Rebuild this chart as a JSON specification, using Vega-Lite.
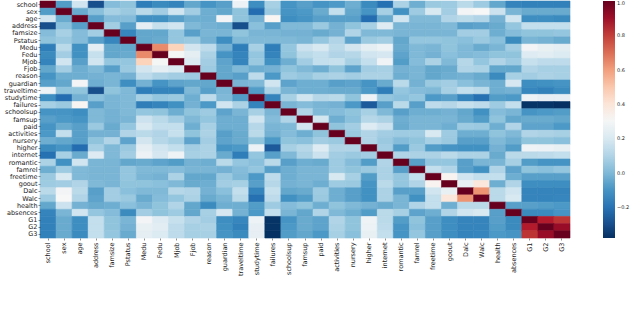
{"$schema":"https://vega.github.io/schema/vega-lite/v6.json","width":530,"height":237,"padding":{"left":40,"top":1,"right":70,"bottom":71},"autosize":{"type":"none"},"background":"white","view":{"stroke":null},"title":{"text":"Figure 3: The heatmap shows the correlation between all","orient":"bottom","anchor":"start","offset":29,"fontSize":26,"font":"Liberation Serif","fontWeight":"normal","color":"#222","dx":-40},"data":{"values":[
{"r":"school","c":"school","v":1},{"r":"school","c":"sex","v":-0.08},{"r":"sex","c":"school","v":-0.08},{"r":"school","c":"age","v":0.17},{"r":"age","c":"school","v":0.17},{"r":"school","c":"address","v":-0.3},{"r":"address","c":"school","v":-0.3},{"r":"school","c":"famsize","v":0.01},{"r":"famsize","c":"school","v":0.01},{"r":"school","c":"Pstatus","v":0.03},{"r":"Pstatus","c":"school","v":0.03},{"r":"school","c":"Medu","v":-0.17},{"r":"Medu","c":"school","v":-0.17},{"r":"school","c":"Fedu","v":-0.13},{"r":"Fedu","c":"school","v":-0.13},{"r":"school","c":"Mjob","v":-0.15},{"r":"Mjob","c":"school","v":-0.15},{"r":"school","c":"Fjob","v":-0.05},{"r":"Fjob","c":"school","v":-0.05},{"r":"school","c":"reason","v":-0.1},{"r":"reason","c":"school","v":-0.1},{"r":"school","c":"guardian","v":-0.07},{"r":"guardian","c":"school","v":-0.07},{"r":"school","c":"traveltime","v":0.27},{"r":"traveltime","c":"school","v":0.27},{"r":"school","c":"studytime","v":-0.12},{"r":"studytime","c":"school","v":-0.12},{"r":"school","c":"failures","v":0.08},{"r":"failures","c":"school","v":0.08},{"r":"school","c":"schoolsup","v":-0.1},{"r":"schoolsup","c":"school","v":-0.1},{"r":"school","c":"famsup","v":-0.07},{"r":"famsup","c":"school","v":-0.07},{"r":"school","c":"paid","v":-0.1},{"r":"paid","c":"school","v":-0.1},{"r":"school","c":"activities","v":-0.09},{"r":"activities","c":"school","v":-0.09},{"r":"school","c":"nursery","v":-0.03},{"r":"nursery","c":"school","v":-0.03},{"r":"school","c":"higher","v":-0.13},{"r":"higher","c":"school","v":-0.13},{"r":"school","c":"internet","v":-0.21},{"r":"internet","c":"school","v":-0.21},{"r":"school","c":"romantic","v":0.09},{"r":"romantic","c":"school","v":0.09},{"r":"school","c":"famrel","v":-0.03},{"r":"famrel","c":"school","v":-0.03},{"r":"school","c":"freetime","v":0.05},{"r":"freetime","c":"school","v":0.05},{"r":"school","c":"goout","v":0.06},{"r":"goout","c":"school","v":0.06},{"r":"school","c":"Dalc","v":0.12},{"r":"Dalc","c":"school","v":0.12},{"r":"school","c":"Walc","v":0.06},{"r":"Walc","c":"school","v":0.06},{"r":"school","c":"health","v":-0.05},{"r":"health","c":"school","v":-0.05},{"r":"school","c":"absences","v":-0.15},{"r":"absences","c":"school","v":-0.15},{"r":"school","c":"G1","v":-0.16},{"r":"G1","c":"school","v":-0.16},{"r":"school","c":"G2","v":-0.16},{"r":"G2","c":"school","v":-0.16},{"r":"school","c":"G3","v":-0.16},{"r":"G3","c":"school","v":-0.16},
{"r":"sex","c":"sex","v":1},{"r":"sex","c":"age","v":-0.04},{"r":"age","c":"sex","v":-0.04},{"r":"sex","c":"address","v":0.02},{"r":"address","c":"sex","v":0.02},{"r":"sex","c":"famsize","v":0.08},{"r":"famsize","c":"sex","v":0.08},{"r":"sex","c":"Pstatus","v":0.05},{"r":"Pstatus","c":"sex","v":0.05},{"r":"sex","c":"Medu","v":0.12},{"r":"Medu","c":"sex","v":0.12},{"r":"sex","c":"Fedu","v":0.07},{"r":"Fedu","c":"sex","v":0.07},{"r":"sex","c":"Mjob","v":0.17},{"r":"Mjob","c":"sex","v":0.17},{"r":"sex","c":"Fjob","v":0.07},{"r":"Fjob","c":"sex","v":0.07},{"r":"sex","c":"reason","v":-0.03},{"r":"reason","c":"sex","v":-0.03},{"r":"sex","c":"guardian","v":-0.05},{"r":"guardian","c":"sex","v":-0.05},{"r":"sex","c":"traveltime","v":0.03},{"r":"traveltime","c":"sex","v":0.03},{"r":"sex","c":"studytime","v":-0.22},{"r":"studytime","c":"sex","v":-0.22},{"r":"sex","c":"failures","v":0.05},{"r":"failures","c":"sex","v":0.05},{"r":"sex","c":"schoolsup","v":-0.1},{"r":"schoolsup","c":"sex","v":-0.1},{"r":"sex","c":"famsup","v":-0.09},{"r":"famsup","c":"sex","v":-0.09},{"r":"sex","c":"paid","v":-0.04},{"r":"paid","c":"sex","v":-0.04},{"r":"sex","c":"activities","v":0.14},{"r":"activities","c":"sex","v":0.14},{"r":"sex","c":"nursery","v":-0.05},{"r":"nursery","c":"sex","v":-0.05},{"r":"sex","c":"higher","v":-0.1},{"r":"higher","c":"sex","v":-0.1},{"r":"sex","c":"internet","v":0.08},{"r":"internet","c":"sex","v":0.08},{"r":"sex","c":"romantic","v":-0.11},{"r":"romantic","c":"sex","v":-0.11},{"r":"sex","c":"famrel","v":0.06},{"r":"famrel","c":"sex","v":0.06},{"r":"sex","c":"freetime","v":0.2},{"r":"freetime","c":"sex","v":0.2},{"r":"sex","c":"goout","v":0.07},{"r":"goout","c":"sex","v":0.07},{"r":"sex","c":"Dalc","v":0.29},{"r":"Dalc","c":"sex","v":0.29},{"r":"sex","c":"Walc","v":0.31},{"r":"Walc","c":"sex","v":0.31},{"r":"sex","c":"health","v":0.16},{"r":"health","c":"sex","v":0.16},{"r":"sex","c":"absences","v":-0.01},{"r":"absences","c":"sex","v":-0.01},{"r":"sex","c":"G1","v":-0.04},{"r":"G1","c":"sex","v":-0.04},{"r":"sex","c":"G2","v":-0.04},{"r":"G2","c":"sex","v":-0.04},{"r":"sex","c":"G3","v":-0.04},{"r":"G3","c":"sex","v":-0.04},
{"r":"age","c":"age","v":1},{"r":"age","c":"address","v":-0.07},{"r":"address","c":"age","v":-0.07},{"r":"age","c":"famsize","v":0.01},{"r":"famsize","c":"age","v":0.01},{"r":"age","c":"Pstatus","v":0.01},{"r":"Pstatus","c":"age","v":0.01},{"r":"age","c":"Medu","v":-0.11},{"r":"Medu","c":"age","v":-0.11},{"r":"age","c":"Fedu","v":-0.11},{"r":"Fedu","c":"age","v":-0.11},{"r":"age","c":"Mjob","v":-0.07},{"r":"Mjob","c":"age","v":-0.07},{"r":"age","c":"Fjob","v":-0.03},{"r":"Fjob","c":"age","v":-0.03},{"r":"age","c":"reason","v":-0.03},{"r":"reason","c":"age","v":-0.03},{"r":"age","c":"guardian","v":0.29},{"r":"guardian","c":"age","v":0.29},{"r":"age","c":"traveltime","v":0.03},{"r":"traveltime","c":"age","v":0.03},{"r":"age","c":"studytime","v":-0.02},{"r":"studytime","c":"age","v":-0.02},{"r":"age","c":"failures","v":0.32},{"r":"failures","c":"age","v":0.32},{"r":"age","c":"schoolsup","v":-0.12},{"r":"schoolsup","c":"age","v":-0.12},{"r":"age","c":"famsup","v":-0.1},{"r":"famsup","c":"age","v":-0.1},{"r":"age","c":"paid","v":-0.07},{"r":"paid","c":"age","v":-0.07},{"r":"age","c":"activities","v":-0.07},{"r":"activities","c":"age","v":-0.07},{"r":"age","c":"nursery","v":-0.07},{"r":"nursery","c":"age","v":-0.07},{"r":"age","c":"higher","v":-0.22},{"r":"higher","c":"age","v":-0.22},{"r":"age","c":"internet","v":-0.04},{"r":"internet","c":"age","v":-0.04},{"r":"age","c":"romantic","v":0.17},{"r":"romantic","c":"age","v":0.17},{"r":"age","c":"famrel","v":0},{"r":"famrel","c":"age","v":0},{"r":"age","c":"freetime","v":0},{"r":"freetime","c":"age","v":0},{"r":"age","c":"goout","v":0.1},{"r":"goout","c":"age","v":0.1},{"r":"age","c":"Dalc","v":0.12},{"r":"Dalc","c":"age","v":0.12},{"r":"age","c":"Walc","v":0.1},{"r":"Walc","c":"age","v":0.1},{"r":"age","c":"health","v":-0.02},{"r":"health","c":"age","v":-0.02},{"r":"age","c":"absences","v":0.17},{"r":"absences","c":"age","v":0.17},{"r":"age","c":"G1","v":-0.12},{"r":"G1","c":"age","v":-0.12},{"r":"age","c":"G2","v":-0.12},{"r":"G2","c":"age","v":-0.12},{"r":"age","c":"G3","v":-0.13},{"r":"G3","c":"age","v":-0.13},
{"r":"address","c":"address","v":1},{"r":"address","c":"famsize","v":0.07},{"r":"famsize","c":"address","v":0.07},{"r":"address","c":"Pstatus","v":-0.07},{"r":"Pstatus","c":"address","v":-0.07},{"r":"address","c":"Medu","v":0.24},{"r":"Medu","c":"address","v":0.24},{"r":"address","c":"Fedu","v":0.15},{"r":"Fedu","c":"address","v":0.15},{"r":"address","c":"Mjob","v":0.17},{"r":"Mjob","c":"address","v":0.17},{"r":"address","c":"Fjob","v":0},{"r":"Fjob","c":"address","v":0},{"r":"address","c":"reason","v":-0.02},{"r":"reason","c":"address","v":-0.02},{"r":"address","c":"guardian","v":-0.03},{"r":"guardian","c":"address","v":-0.03},{"r":"address","c":"traveltime","v":-0.3},{"r":"traveltime","c":"address","v":-0.3},{"r":"address","c":"studytime","v":0.02},{"r":"studytime","c":"address","v":0.02},{"r":"address","c":"failures","v":-0.07},{"r":"failures","c":"address","v":-0.07},{"r":"address","c":"schoolsup","v":0},{"r":"schoolsup","c":"address","v":0},{"r":"address","c":"famsup","v":0},{"r":"famsup","c":"address","v":0},{"r":"address","c":"paid","v":0.05},{"r":"paid","c":"address","v":0.05},{"r":"address","c":"activities","v":-0.02},{"r":"activities","c":"address","v":-0.02},{"r":"address","c":"nursery","v":0.03},{"r":"nursery","c":"address","v":0.03},{"r":"address","c":"higher","v":0.08},{"r":"higher","c":"address","v":0.08},{"r":"address","c":"internet","v":0.22},{"r":"internet","c":"address","v":0.22},{"r":"address","c":"romantic","v":-0.01},{"r":"romantic","c":"address","v":-0.01},{"r":"address","c":"famrel","v":-0.01},{"r":"famrel","c":"address","v":-0.01},{"r":"address","c":"freetime","v":-0.01},{"r":"freetime","c":"address","v":-0.01},{"r":"address","c":"goout","v":0},{"r":"goout","c":"address","v":0},{"r":"address","c":"Dalc","v":-0.07},{"r":"Dalc","c":"address","v":-0.07},{"r":"address","c":"Walc","v":-0.06},{"r":"Walc","c":"address","v":-0.06},{"r":"address","c":"health","v":-0.04},{"r":"health","c":"address","v":-0.04},{"r":"address","c":"absences","v":0.04},{"r":"absences","c":"address","v":0.04},{"r":"address","c":"G1","v":0.14},{"r":"G1","c":"address","v":0.14},{"r":"address","c":"G2","v":0.14},{"r":"G2","c":"address","v":0.14},{"r":"address","c":"G3","v":0.14},{"r":"G3","c":"address","v":0.14},
{"r":"famsize","c":"famsize","v":1},{"r":"famsize","c":"Pstatus","v":-0.14},{"r":"Pstatus","c":"famsize","v":-0.14},{"r":"famsize","c":"Medu","v":-0.05},{"r":"Medu","c":"famsize","v":-0.05},{"r":"famsize","c":"Fedu","v":-0.05},{"r":"Fedu","c":"famsize","v":-0.05},{"r":"famsize","c":"Mjob","v":0.04},{"r":"Mjob","c":"famsize","v":0.04},{"r":"famsize","c":"Fjob","v":-0.07},{"r":"Fjob","c":"famsize","v":-0.07},{"r":"famsize","c":"reason","v":-0.01},{"r":"reason","c":"famsize","v":-0.01},{"r":"famsize","c":"guardian","v":-0.01},{"r":"guardian","c":"famsize","v":-0.01},{"r":"famsize","c":"traveltime","v":0.03},{"r":"traveltime","c":"famsize","v":0.03},{"r":"famsize","c":"studytime","v":-0.01},{"r":"studytime","c":"famsize","v":-0.01},{"r":"famsize","c":"failures","v":-0.01},{"r":"failures","c":"famsize","v":-0.01},{"r":"famsize","c":"schoolsup","v":-0.02},{"r":"schoolsup","c":"famsize","v":-0.02},{"r":"famsize","c":"famsup","v":-0.02},{"r":"famsup","c":"famsize","v":-0.02},{"r":"famsize","c":"paid","v":-0.04},{"r":"paid","c":"famsize","v":-0.04},{"r":"famsize","c":"activities","v":-0.02},{"r":"activities","c":"famsize","v":-0.02},{"r":"famsize","c":"nursery","v":0.1},{"r":"nursery","c":"famsize","v":0.1},{"r":"famsize","c":"higher","v":0},{"r":"higher","c":"famsize","v":0},{"r":"famsize","c":"internet","v":0},{"r":"internet","c":"famsize","v":0},{"r":"famsize","c":"romantic","v":-0.01},{"r":"romantic","c":"famsize","v":-0.01},{"r":"famsize","c":"famrel","v":-0.01},{"r":"famrel","c":"famsize","v":-0.01},{"r":"famsize","c":"freetime","v":-0.01},{"r":"freetime","c":"famsize","v":-0.01},{"r":"famsize","c":"goout","v":-0.01},{"r":"goout","c":"famsize","v":-0.01},{"r":"famsize","c":"Dalc","v":0.07},{"r":"Dalc","c":"famsize","v":0.07},{"r":"famsize","c":"Walc","v":0.07},{"r":"Walc","c":"famsize","v":0.07},{"r":"famsize","c":"health","v":-0.03},{"r":"health","c":"famsize","v":-0.03},{"r":"famsize","c":"absences","v":0.01},{"r":"absences","c":"famsize","v":0.01},{"r":"famsize","c":"G1","v":0.03},{"r":"G1","c":"famsize","v":0.03},{"r":"famsize","c":"G2","v":0.03},{"r":"G2","c":"famsize","v":0.03},{"r":"famsize","c":"G3","v":0.04},{"r":"G3","c":"famsize","v":0.04},
{"r":"Pstatus","c":"Pstatus","v":1},{"r":"Pstatus","c":"Medu","v":-0.05},{"r":"Medu","c":"Pstatus","v":-0.05},{"r":"Pstatus","c":"Fedu","v":-0.04},{"r":"Fedu","c":"Pstatus","v":-0.04},{"r":"Pstatus","c":"Mjob","v":0.04},{"r":"Mjob","c":"Pstatus","v":0.04},{"r":"Pstatus","c":"Fjob","v":0.05},{"r":"Fjob","c":"Pstatus","v":0.05},{"r":"Pstatus","c":"reason","v":-0.02},{"r":"reason","c":"Pstatus","v":-0.02},{"r":"Pstatus","c":"guardian","v":-0.12},{"r":"guardian","c":"Pstatus","v":-0.12},{"r":"Pstatus","c":"traveltime","v":0},{"r":"traveltime","c":"Pstatus","v":0},{"r":"Pstatus","c":"studytime","v":0},{"r":"studytime","c":"Pstatus","v":0},{"r":"Pstatus","c":"failures","v":0},{"r":"failures","c":"Pstatus","v":0},{"r":"Pstatus","c":"schoolsup","v":0},{"r":"schoolsup","c":"Pstatus","v":0},{"r":"Pstatus","c":"famsup","v":-0.01},{"r":"famsup","c":"Pstatus","v":-0.01},{"r":"Pstatus","c":"paid","v":0.04},{"r":"paid","c":"Pstatus","v":0.04},{"r":"Pstatus","c":"activities","v":0.1},{"r":"activities","c":"Pstatus","v":0.1},{"r":"Pstatus","c":"nursery","v":-0.06},{"r":"nursery","c":"Pstatus","v":-0.06},{"r":"Pstatus","c":"higher","v":0.05},{"r":"higher","c":"Pstatus","v":0.05},{"r":"Pstatus","c":"internet","v":0.07},{"r":"internet","c":"Pstatus","v":0.07},{"r":"Pstatus","c":"romantic","v":-0.05},{"r":"romantic","c":"Pstatus","v":-0.05},{"r":"Pstatus","c":"famrel","v":0.04},{"r":"famrel","c":"Pstatus","v":0.04},{"r":"Pstatus","c":"freetime","v":0.04},{"r":"freetime","c":"Pstatus","v":0.04},{"r":"Pstatus","c":"goout","v":0.03},{"r":"goout","c":"Pstatus","v":0.03},{"r":"Pstatus","c":"Dalc","v":0.02},{"r":"Dalc","c":"Pstatus","v":0.02},{"r":"Pstatus","c":"Walc","v":0.05},{"r":"Walc","c":"Pstatus","v":0.05},{"r":"Pstatus","c":"health","v":0.02},{"r":"health","c":"Pstatus","v":0.02},{"r":"Pstatus","c":"absences","v":-0.13},{"r":"absences","c":"Pstatus","v":-0.13},{"r":"Pstatus","c":"G1","v":-0.01},{"r":"G1","c":"Pstatus","v":-0.01},{"r":"Pstatus","c":"G2","v":-0.02},{"r":"G2","c":"Pstatus","v":-0.02},{"r":"Pstatus","c":"G3","v":-0.04},{"r":"G3","c":"Pstatus","v":-0.04},
{"r":"Medu","c":"Medu","v":1},{"r":"Medu","c":"Fedu","v":0.64},{"r":"Fedu","c":"Medu","v":0.64},{"r":"Medu","c":"Mjob","v":0.47},{"r":"Mjob","c":"Medu","v":0.47},{"r":"Medu","c":"Fjob","v":0.18},{"r":"Fjob","c":"Medu","v":0.18},{"r":"Medu","c":"reason","v":0.13},{"r":"reason","c":"Medu","v":0.13},{"r":"Medu","c":"guardian","v":-0.02},{"r":"guardian","c":"Medu","v":-0.02},{"r":"Medu","c":"traveltime","v":-0.17},{"r":"traveltime","c":"Medu","v":-0.17},{"r":"Medu","c":"studytime","v":0.08},{"r":"studytime","c":"Medu","v":0.08},{"r":"Medu","c":"failures","v":-0.17},{"r":"failures","c":"Medu","v":-0.17},{"r":"Medu","c":"schoolsup","v":0.04},{"r":"schoolsup","c":"Medu","v":0.04},{"r":"Medu","c":"famsup","v":0.16},{"r":"famsup","c":"Medu","v":0.16},{"r":"Medu","c":"paid","v":0.2},{"r":"paid","c":"Medu","v":0.2},{"r":"Medu","c":"activities","v":0.12},{"r":"activities","c":"Medu","v":0.12},{"r":"Medu","c":"nursery","v":0.18},{"r":"nursery","c":"Medu","v":0.18},{"r":"Medu","c":"higher","v":0.24},{"r":"higher","c":"Medu","v":0.24},{"r":"Medu","c":"internet","v":0.27},{"r":"internet","c":"Medu","v":0.27},{"r":"Medu","c":"romantic","v":-0.04},{"r":"romantic","c":"Medu","v":-0.04},{"r":"Medu","c":"famrel","v":0},{"r":"famrel","c":"Medu","v":0},{"r":"Medu","c":"freetime","v":-0.01},{"r":"freetime","c":"Medu","v":-0.01},{"r":"Medu","c":"goout","v":0.03},{"r":"goout","c":"Medu","v":0.03},{"r":"Medu","c":"Dalc","v":0},{"r":"Dalc","c":"Medu","v":0},{"r":"Medu","c":"Walc","v":-0.04},{"r":"Walc","c":"Medu","v":-0.04},{"r":"Medu","c":"health","v":-0.01},{"r":"health","c":"Medu","v":-0.01},{"r":"Medu","c":"absences","v":0.07},{"r":"absences","c":"Medu","v":0.07},{"r":"Medu","c":"G1","v":0.29},{"r":"G1","c":"Medu","v":0.29},{"r":"Medu","c":"G2","v":0.26},{"r":"G2","c":"Medu","v":0.26},{"r":"Medu","c":"G3","v":0.24},{"r":"G3","c":"Medu","v":0.24},
{"r":"Fedu","c":"Fedu","v":1},{"r":"Fedu","c":"Mjob","v":0.3},{"r":"Mjob","c":"Fedu","v":0.3},{"r":"Fedu","c":"Fjob","v":0.24},{"r":"Fjob","c":"Fedu","v":0.24},{"r":"Fedu","c":"reason","v":0.09},{"r":"reason","c":"Fedu","v":0.09},{"r":"Fedu","c":"guardian","v":-0.1},{"r":"guardian","c":"Fedu","v":-0.1},{"r":"Fedu","c":"traveltime","v":-0.15},{"r":"traveltime","c":"Fedu","v":-0.15},{"r":"Fedu","c":"studytime","v":0.04},{"r":"studytime","c":"Fedu","v":0.04},{"r":"Fedu","c":"failures","v":-0.15},{"r":"failures","c":"Fedu","v":-0.15},{"r":"Fedu","c":"schoolsup","v":0.03},{"r":"schoolsup","c":"Fedu","v":0.03},{"r":"Fedu","c":"famsup","v":0.12},{"r":"famsup","c":"Fedu","v":0.12},{"r":"Fedu","c":"paid","v":0.14},{"r":"paid","c":"Fedu","v":0.14},{"r":"Fedu","c":"activities","v":0.1},{"r":"activities","c":"Fedu","v":0.1},{"r":"Fedu","c":"nursery","v":0.11},{"r":"nursery","c":"Fedu","v":0.11},{"r":"Fedu","c":"higher","v":0.17},{"r":"higher","c":"Fedu","v":0.17},{"r":"Fedu","c":"internet","v":0.19},{"r":"internet","c":"Fedu","v":0.19},{"r":"Fedu","c":"romantic","v":-0.06},{"r":"romantic","c":"Fedu","v":-0.06},{"r":"Fedu","c":"famrel","v":0},{"r":"famrel","c":"Fedu","v":0},{"r":"Fedu","c":"freetime","v":-0.02},{"r":"freetime","c":"Fedu","v":-0.02},{"r":"Fedu","c":"goout","v":0.02},{"r":"goout","c":"Fedu","v":0.02},{"r":"Fedu","c":"Dalc","v":0},{"r":"Dalc","c":"Fedu","v":0},{"r":"Fedu","c":"Walc","v":0.01},{"r":"Walc","c":"Fedu","v":0.01},{"r":"Fedu","c":"health","v":0.03},{"r":"health","c":"Fedu","v":0.03},{"r":"Fedu","c":"absences","v":0.03},{"r":"absences","c":"Fedu","v":0.03},{"r":"Fedu","c":"G1","v":0.22},{"r":"G1","c":"Fedu","v":0.22},{"r":"Fedu","c":"G2","v":0.23},{"r":"G2","c":"Fedu","v":0.23},{"r":"Fedu","c":"G3","v":0.21},{"r":"G3","c":"Fedu","v":0.21},
{"r":"Mjob","c":"Mjob","v":1},{"r":"Mjob","c":"Fjob","v":0.21},{"r":"Fjob","c":"Mjob","v":0.21},{"r":"Mjob","c":"reason","v":0.07},{"r":"reason","c":"Mjob","v":0.07},{"r":"Mjob","c":"guardian","v":-0.06},{"r":"guardian","c":"Mjob","v":-0.06},{"r":"Mjob","c":"traveltime","v":-0.15},{"r":"traveltime","c":"Mjob","v":-0.15},{"r":"Mjob","c":"studytime","v":0.05},{"r":"studytime","c":"Mjob","v":0.05},{"r":"Mjob","c":"failures","v":-0.11},{"r":"failures","c":"Mjob","v":-0.11},{"r":"Mjob","c":"schoolsup","v":-0.03},{"r":"schoolsup","c":"Mjob","v":-0.03},{"r":"Mjob","c":"famsup","v":0.07},{"r":"famsup","c":"Mjob","v":0.07},{"r":"Mjob","c":"paid","v":0.14},{"r":"paid","c":"Mjob","v":0.14},{"r":"Mjob","c":"activities","v":0.15},{"r":"activities","c":"Mjob","v":0.15},{"r":"Mjob","c":"nursery","v":0.08},{"r":"nursery","c":"Mjob","v":0.08},{"r":"Mjob","c":"higher","v":0.14},{"r":"higher","c":"Mjob","v":0.14},{"r":"Mjob","c":"internet","v":0.28},{"r":"internet","c":"Mjob","v":0.28},{"r":"Mjob","c":"romantic","v":-0.08},{"r":"romantic","c":"Mjob","v":-0.08},{"r":"Mjob","c":"famrel","v":0.01},{"r":"famrel","c":"Mjob","v":0.01},{"r":"Mjob","c":"freetime","v":0.09},{"r":"freetime","c":"Mjob","v":0.09},{"r":"Mjob","c":"goout","v":0},{"r":"goout","c":"Mjob","v":0},{"r":"Mjob","c":"Dalc","v":0.11},{"r":"Dalc","c":"Mjob","v":0.11},{"r":"Mjob","c":"Walc","v":0.04},{"r":"Walc","c":"Mjob","v":0.04},{"r":"Mjob","c":"health","v":0.1},{"r":"health","c":"Mjob","v":0.1},{"r":"Mjob","c":"absences","v":0.06},{"r":"absences","c":"Mjob","v":0.06},{"r":"Mjob","c":"G1","v":0.15},{"r":"G1","c":"Mjob","v":0.15},{"r":"Mjob","c":"G2","v":0.13},{"r":"G2","c":"Mjob","v":0.13},{"r":"Mjob","c":"G3","v":0.13},{"r":"G3","c":"Mjob","v":0.13},
{"r":"Fjob","c":"Fjob","v":1},{"r":"Fjob","c":"reason","v":0.06},{"r":"reason","c":"Fjob","v":0.06},{"r":"Fjob","c":"guardian","v":-0.05},{"r":"guardian","c":"Fjob","v":-0.05},{"r":"Fjob","c":"traveltime","v":0},{"r":"traveltime","c":"Fjob","v":0},{"r":"Fjob","c":"studytime","v":-0.03},{"r":"studytime","c":"Fjob","v":-0.03},{"r":"Fjob","c":"failures","v":-0.02},{"r":"failures","c":"Fjob","v":-0.02},{"r":"Fjob","c":"schoolsup","v":0.03},{"r":"schoolsup","c":"Fjob","v":0.03},{"r":"Fjob","c":"famsup","v":0},{"r":"famsup","c":"Fjob","v":0},{"r":"Fjob","c":"paid","v":-0.03},{"r":"paid","c":"Fjob","v":-0.03},{"r":"Fjob","c":"activities","v":0.03},{"r":"activities","c":"Fjob","v":0.03},{"r":"Fjob","c":"nursery","v":-0.06},{"r":"nursery","c":"Fjob","v":-0.06},{"r":"Fjob","c":"higher","v":0.07},{"r":"higher","c":"Fjob","v":0.07},{"r":"Fjob","c":"internet","v":0.08},{"r":"internet","c":"Fjob","v":0.08},{"r":"Fjob","c":"romantic","v":-0.02},{"r":"romantic","c":"Fjob","v":-0.02},{"r":"Fjob","c":"famrel","v":-0.01},{"r":"famrel","c":"Fjob","v":-0.01},{"r":"Fjob","c":"freetime","v":-0.05},{"r":"freetime","c":"Fjob","v":-0.05},{"r":"Fjob","c":"goout","v":-0.04},{"r":"goout","c":"Fjob","v":-0.04},{"r":"Fjob","c":"Dalc","v":0.1},{"r":"Dalc","c":"Fjob","v":0.1},{"r":"Fjob","c":"Walc","v":0.09},{"r":"Walc","c":"Fjob","v":0.09},{"r":"Fjob","c":"health","v":-0.05},{"r":"health","c":"Fjob","v":-0.05},{"r":"Fjob","c":"absences","v":-0.05},{"r":"absences","c":"Fjob","v":-0.05},{"r":"Fjob","c":"G1","v":0.1},{"r":"G1","c":"Fjob","v":0.1},{"r":"Fjob","c":"G2","v":0.08},{"r":"G2","c":"Fjob","v":0.08},{"r":"Fjob","c":"G3","v":0.08},{"r":"G3","c":"Fjob","v":0.08},
{"r":"reason","c":"reason","v":1},{"r":"reason","c":"guardian","v":-0.05},{"r":"guardian","c":"reason","v":-0.05},{"r":"reason","c":"traveltime","v":-0.07},{"r":"traveltime","c":"reason","v":-0.07},{"r":"reason","c":"studytime","v":0.13},{"r":"studytime","c":"reason","v":0.13},{"r":"reason","c":"failures","v":-0.09},{"r":"failures","c":"reason","v":-0.09},{"r":"reason","c":"schoolsup","v":0.06},{"r":"schoolsup","c":"reason","v":0.06},{"r":"reason","c":"famsup","v":0.04},{"r":"famsup","c":"reason","v":0.04},{"r":"reason","c":"paid","v":0.08},{"r":"paid","c":"reason","v":0.08},{"r":"reason","c":"activities","v":0.09},{"r":"activities","c":"reason","v":0.09},{"r":"reason","c":"nursery","v":0.07},{"r":"nursery","c":"reason","v":0.07},{"r":"reason","c":"higher","v":0.09},{"r":"higher","c":"reason","v":0.09},{"r":"reason","c":"internet","v":0.09},{"r":"internet","c":"reason","v":0.09},{"r":"reason","c":"romantic","v":-0.03},{"r":"romantic","c":"reason","v":-0.03},{"r":"reason","c":"famrel","v":-0.01},{"r":"famrel","c":"reason","v":-0.01},{"r":"reason","c":"freetime","v":-0.05},{"r":"freetime","c":"reason","v":-0.05},{"r":"reason","c":"goout","v":-0.03},{"r":"goout","c":"reason","v":-0.03},{"r":"reason","c":"Dalc","v":-0.02},{"r":"Dalc","c":"reason","v":-0.02},{"r":"reason","c":"Walc","v":-0.04},{"r":"Walc","c":"reason","v":-0.04},{"r":"reason","c":"health","v":-0.13},{"r":"health","c":"reason","v":-0.13},{"r":"reason","c":"absences","v":0.08},{"r":"absences","c":"reason","v":0.08},{"r":"reason","c":"G1","v":0.07},{"r":"G1","c":"reason","v":0.07},{"r":"reason","c":"G2","v":0.09},{"r":"G2","c":"reason","v":0.09},{"r":"reason","c":"G3","v":0.08},{"r":"G3","c":"reason","v":0.08},
{"r":"guardian","c":"guardian","v":1},{"r":"guardian","c":"traveltime","v":-0.01},{"r":"traveltime","c":"guardian","v":-0.01},{"r":"guardian","c":"studytime","v":0},{"r":"studytime","c":"guardian","v":0},{"r":"guardian","c":"failures","v":0.17},{"r":"failures","c":"guardian","v":0.17},{"r":"guardian","c":"schoolsup","v":-0.06},{"r":"schoolsup","c":"guardian","v":-0.06},{"r":"guardian","c":"famsup","v":-0.03},{"r":"famsup","c":"guardian","v":-0.03},{"r":"guardian","c":"paid","v":-0.03},{"r":"paid","c":"guardian","v":-0.03},{"r":"guardian","c":"activities","v":-0.07},{"r":"activities","c":"guardian","v":-0.07},{"r":"guardian","c":"nursery","v":-0.06},{"r":"nursery","c":"guardian","v":-0.06},{"r":"guardian","c":"higher","v":-0.1},{"r":"higher","c":"guardian","v":-0.1},{"r":"guardian","c":"internet","v":-0.04},{"r":"internet","c":"guardian","v":-0.04},{"r":"guardian","c":"romantic","v":0.12},{"r":"romantic","c":"guardian","v":0.12},{"r":"guardian","c":"famrel","v":-0.02},{"r":"famrel","c":"guardian","v":-0.02},{"r":"guardian","c":"freetime","v":0.05},{"r":"freetime","c":"guardian","v":0.05},{"r":"guardian","c":"goout","v":0.07},{"r":"goout","c":"guardian","v":0.07},{"r":"guardian","c":"Dalc","v":0.02},{"r":"Dalc","c":"guardian","v":0.02},{"r":"guardian","c":"Walc","v":-0.01},{"r":"Walc","c":"guardian","v":-0.01},{"r":"guardian","c":"health","v":-0.03},{"r":"health","c":"guardian","v":-0.03},{"r":"guardian","c":"absences","v":0.19},{"r":"absences","c":"guardian","v":0.19},{"r":"guardian","c":"G1","v":-0.12},{"r":"G1","c":"guardian","v":-0.12},{"r":"guardian","c":"G2","v":-0.11},{"r":"G2","c":"guardian","v":-0.11},{"r":"guardian","c":"G3","v":-0.1},{"r":"G3","c":"guardian","v":-0.1},
{"r":"traveltime","c":"traveltime","v":1},{"r":"traveltime","c":"studytime","v":-0.08},{"r":"studytime","c":"traveltime","v":-0.08},{"r":"traveltime","c":"failures","v":0.09},{"r":"failures","c":"traveltime","v":0.09},{"r":"traveltime","c":"schoolsup","v":-0.01},{"r":"schoolsup","c":"traveltime","v":-0.01},{"r":"traveltime","c":"famsup","v":-0.03},{"r":"famsup","c":"traveltime","v":-0.03},{"r":"traveltime","c":"paid","v":-0.03},{"r":"paid","c":"traveltime","v":-0.03},{"r":"traveltime","c":"activities","v":-0.04},{"r":"activities","c":"traveltime","v":-0.04},{"r":"traveltime","c":"nursery","v":-0.04},{"r":"nursery","c":"traveltime","v":-0.04},{"r":"traveltime","c":"higher","v":-0.09},{"r":"higher","c":"traveltime","v":-0.09},{"r":"traveltime","c":"internet","v":-0.17},{"r":"internet","c":"traveltime","v":-0.17},{"r":"traveltime","c":"romantic","v":0.04},{"r":"romantic","c":"traveltime","v":0.04},{"r":"traveltime","c":"famrel","v":0.01},{"r":"famrel","c":"traveltime","v":0.01},{"r":"traveltime","c":"freetime","v":0},{"r":"freetime","c":"traveltime","v":0},{"r":"traveltime","c":"goout","v":0.08},{"r":"goout","c":"traveltime","v":0.08},{"r":"traveltime","c":"Dalc","v":0.14},{"r":"Dalc","c":"traveltime","v":0.14},{"r":"traveltime","c":"Walc","v":0.12},{"r":"Walc","c":"traveltime","v":0.12},{"r":"traveltime","c":"health","v":-0.03},{"r":"health","c":"traveltime","v":-0.03},{"r":"traveltime","c":"absences","v":-0.02},{"r":"absences","c":"traveltime","v":-0.02},{"r":"traveltime","c":"G1","v":-0.14},{"r":"G1","c":"traveltime","v":-0.14},{"r":"traveltime","c":"G2","v":-0.16},{"r":"G2","c":"traveltime","v":-0.16},{"r":"traveltime","c":"G3","v":-0.13},{"r":"G3","c":"traveltime","v":-0.13},
{"r":"studytime","c":"studytime","v":1},{"r":"studytime","c":"failures","v":-0.15},{"r":"failures","c":"studytime","v":-0.15},{"r":"studytime","c":"schoolsup","v":0.08},{"r":"schoolsup","c":"studytime","v":0.08},{"r":"studytime","c":"famsup","v":0.17},{"r":"famsup","c":"studytime","v":0.17},{"r":"studytime","c":"paid","v":0.11},{"r":"paid","c":"studytime","v":0.11},{"r":"studytime","c":"activities","v":0.12},{"r":"activities","c":"studytime","v":0.12},{"r":"studytime","c":"nursery","v":0.03},{"r":"nursery","c":"studytime","v":0.03},{"r":"studytime","c":"higher","v":0.27},{"r":"higher","c":"studytime","v":0.27},{"r":"studytime","c":"internet","v":0.04},{"r":"internet","c":"studytime","v":0.04},{"r":"studytime","c":"romantic","v":0.02},{"r":"romantic","c":"studytime","v":0.02},{"r":"studytime","c":"famrel","v":0.04},{"r":"famrel","c":"studytime","v":0.04},{"r":"studytime","c":"freetime","v":-0.09},{"r":"freetime","c":"studytime","v":-0.09},{"r":"studytime","c":"goout","v":-0.07},{"r":"goout","c":"studytime","v":-0.07},{"r":"studytime","c":"Dalc","v":-0.15},{"r":"Dalc","c":"studytime","v":-0.15},{"r":"studytime","c":"Walc","v":-0.21},{"r":"Walc","c":"studytime","v":-0.21},{"r":"studytime","c":"health","v":-0.08},{"r":"health","c":"studytime","v":-0.08},{"r":"studytime","c":"absences","v":-0.09},{"r":"absences","c":"studytime","v":-0.09},{"r":"studytime","c":"G1","v":0.27},{"r":"G1","c":"studytime","v":0.27},{"r":"studytime","c":"G2","v":0.25},{"r":"G2","c":"studytime","v":0.25},{"r":"studytime","c":"G3","v":0.25},{"r":"G3","c":"studytime","v":0.25},
{"r":"failures","c":"failures","v":1},{"r":"failures","c":"schoolsup","v":-0.01},{"r":"schoolsup","c":"failures","v":-0.01},{"r":"failures","c":"famsup","v":0.01},{"r":"famsup","c":"failures","v":0.01},{"r":"failures","c":"paid","v":-0.01},{"r":"paid","c":"failures","v":-0.01},{"r":"failures","c":"activities","v":-0.02},{"r":"activities","c":"failures","v":-0.02},{"r":"failures","c":"nursery","v":-0.09},{"r":"nursery","c":"failures","v":-0.09},{"r":"failures","c":"higher","v":-0.27},{"r":"higher","c":"failures","v":-0.27},{"r":"failures","c":"internet","v":-0.07},{"r":"internet","c":"failures","v":-0.07},{"r":"failures","c":"romantic","v":0.12},{"r":"romantic","c":"failures","v":0.12},{"r":"failures","c":"famrel","v":-0.07},{"r":"famrel","c":"failures","v":-0.07},{"r":"failures","c":"freetime","v":0.13},{"r":"freetime","c":"failures","v":0.13},{"r":"failures","c":"goout","v":0.11},{"r":"goout","c":"failures","v":0.11},{"r":"failures","c":"Dalc","v":0.15},{"r":"Dalc","c":"failures","v":0.15},{"r":"failures","c":"Walc","v":0.13},{"r":"Walc","c":"failures","v":0.13},{"r":"failures","c":"health","v":0.06},{"r":"health","c":"failures","v":0.06},{"r":"failures","c":"absences","v":0.14},{"r":"absences","c":"failures","v":0.14},{"r":"failures","c":"G1","v":-0.37},{"r":"G1","c":"failures","v":-0.37},{"r":"failures","c":"G2","v":-0.37},{"r":"G2","c":"failures","v":-0.37},{"r":"failures","c":"G3","v":-0.38},{"r":"G3","c":"failures","v":-0.38},
{"r":"schoolsup","c":"schoolsup","v":1},{"r":"schoolsup","c":"famsup","v":0.1},{"r":"famsup","c":"schoolsup","v":0.1},{"r":"schoolsup","c":"paid","v":0},{"r":"paid","c":"schoolsup","v":0},{"r":"schoolsup","c":"activities","v":0.01},{"r":"activities","c":"schoolsup","v":0.01},{"r":"schoolsup","c":"nursery","v":0.03},{"r":"nursery","c":"schoolsup","v":0.03},{"r":"schoolsup","c":"higher","v":0.08},{"r":"higher","c":"schoolsup","v":0.08},{"r":"schoolsup","c":"internet","v":0},{"r":"internet","c":"schoolsup","v":0},{"r":"schoolsup","c":"romantic","v":-0.07},{"r":"romantic","c":"schoolsup","v":-0.07},{"r":"schoolsup","c":"famrel","v":-0.03},{"r":"famrel","c":"schoolsup","v":-0.03},{"r":"schoolsup","c":"freetime","v":-0.03},{"r":"freetime","c":"schoolsup","v":-0.03},{"r":"schoolsup","c":"goout","v":-0.02},{"r":"goout","c":"schoolsup","v":-0.02},{"r":"schoolsup","c":"Dalc","v":-0.05},{"r":"Dalc","c":"schoolsup","v":-0.05},{"r":"schoolsup","c":"Walc","v":-0.11},{"r":"Walc","c":"schoolsup","v":-0.11},{"r":"schoolsup","c":"health","v":0.01},{"r":"health","c":"schoolsup","v":0.01},{"r":"schoolsup","c":"absences","v":-0.01},{"r":"absences","c":"schoolsup","v":-0.01},{"r":"schoolsup","c":"G1","v":-0.1},{"r":"G1","c":"schoolsup","v":-0.1},{"r":"schoolsup","c":"G2","v":-0.09},{"r":"G2","c":"schoolsup","v":-0.09},{"r":"schoolsup","c":"G3","v":-0.08},{"r":"G3","c":"schoolsup","v":-0.08},
{"r":"famsup","c":"famsup","v":1},{"r":"famsup","c":"paid","v":0.18},{"r":"paid","c":"famsup","v":0.18},{"r":"famsup","c":"activities","v":-0.03},{"r":"activities","c":"famsup","v":-0.03},{"r":"famsup","c":"nursery","v":0.02},{"r":"nursery","c":"famsup","v":0.02},{"r":"famsup","c":"higher","v":0.11},{"r":"higher","c":"famsup","v":0.11},{"r":"famsup","c":"internet","v":0.09},{"r":"internet","c":"famsup","v":0.09},{"r":"famsup","c":"romantic","v":-0.03},{"r":"romantic","c":"famsup","v":-0.03},{"r":"famsup","c":"famrel","v":-0.01},{"r":"famrel","c":"famsup","v":-0.01},{"r":"famsup","c":"freetime","v":-0.01},{"r":"freetime","c":"famsup","v":-0.01},{"r":"famsup","c":"goout","v":-0.01},{"r":"goout","c":"famsup","v":-0.01},{"r":"famsup","c":"Dalc","v":-0.04},{"r":"Dalc","c":"famsup","v":-0.04},{"r":"famsup","c":"Walc","v":-0.08},{"r":"Walc","c":"famsup","v":-0.08},{"r":"famsup","c":"health","v":0.03},{"r":"health","c":"famsup","v":0.03},{"r":"famsup","c":"absences","v":-0.05},{"r":"absences","c":"famsup","v":-0.05},{"r":"famsup","c":"G1","v":-0.04},{"r":"G1","c":"famsup","v":-0.04},{"r":"famsup","c":"G2","v":-0.04},{"r":"G2","c":"famsup","v":-0.04},{"r":"famsup","c":"G3","v":-0.05},{"r":"G3","c":"famsup","v":-0.05},
{"r":"paid","c":"paid","v":1},{"r":"paid","c":"activities","v":0.03},{"r":"activities","c":"paid","v":0.03},{"r":"paid","c":"nursery","v":0.07},{"r":"nursery","c":"paid","v":0.07},{"r":"paid","c":"higher","v":0.22},{"r":"higher","c":"paid","v":0.22},{"r":"paid","c":"internet","v":0.16},{"r":"internet","c":"paid","v":0.16},{"r":"paid","c":"romantic","v":-0.04},{"r":"romantic","c":"paid","v":-0.04},{"r":"paid","c":"famrel","v":-0.01},{"r":"famrel","c":"paid","v":-0.01},{"r":"paid","c":"freetime","v":-0.01},{"r":"freetime","c":"paid","v":-0.01},{"r":"paid","c":"goout","v":-0.03},{"r":"goout","c":"paid","v":-0.03},{"r":"paid","c":"Dalc","v":0.06},{"r":"Dalc","c":"paid","v":0.06},{"r":"paid","c":"Walc","v":0.05},{"r":"Walc","c":"paid","v":0.05},{"r":"paid","c":"health","v":-0.03},{"r":"health","c":"paid","v":-0.03},{"r":"paid","c":"absences","v":0.1},{"r":"absences","c":"paid","v":0.1},{"r":"paid","c":"G1","v":-0.06},{"r":"G1","c":"paid","v":-0.06},{"r":"paid","c":"G2","v":-0.06},{"r":"G2","c":"paid","v":-0.06},{"r":"paid","c":"G3","v":-0.09},{"r":"G3","c":"paid","v":-0.09},
{"r":"activities","c":"activities","v":1},{"r":"activities","c":"nursery","v":0.05},{"r":"nursery","c":"activities","v":0.05},{"r":"activities","c":"higher","v":0.1},{"r":"higher","c":"activities","v":0.1},{"r":"activities","c":"internet","v":0.07},{"r":"internet","c":"activities","v":0.07},{"r":"activities","c":"romantic","v":0.06},{"r":"romantic","c":"activities","v":0.06},{"r":"activities","c":"famrel","v":0.06},{"r":"famrel","c":"activities","v":0.06},{"r":"activities","c":"freetime","v":0.2},{"r":"freetime","c":"activities","v":0.2},{"r":"activities","c":"goout","v":0.06},{"r":"goout","c":"activities","v":0.06},{"r":"activities","c":"Dalc","v":-0.03},{"r":"Dalc","c":"activities","v":-0.03},{"r":"activities","c":"Walc","v":-0.03},{"r":"Walc","c":"activities","v":-0.03},{"r":"activities","c":"health","v":0.03},{"r":"health","c":"activities","v":0.03},{"r":"activities","c":"absences","v":0},{"r":"absences","c":"activities","v":0},{"r":"activities","c":"G1","v":0.1},{"r":"G1","c":"activities","v":0.1},{"r":"activities","c":"G2","v":0.09},{"r":"G2","c":"activities","v":0.09},{"r":"activities","c":"G3","v":0.08},{"r":"G3","c":"activities","v":0.08},
{"r":"nursery","c":"nursery","v":1},{"r":"nursery","c":"higher","v":0.1},{"r":"higher","c":"nursery","v":0.1},{"r":"nursery","c":"internet","v":0.05},{"r":"internet","c":"nursery","v":0.05},{"r":"nursery","c":"romantic","v":0.01},{"r":"romantic","c":"nursery","v":0.01},{"r":"nursery","c":"famrel","v":0.03},{"r":"famrel","c":"nursery","v":0.03},{"r":"nursery","c":"freetime","v":0.08},{"r":"freetime","c":"nursery","v":0.08},{"r":"nursery","c":"goout","v":0.05},{"r":"goout","c":"nursery","v":0.05},{"r":"nursery","c":"Dalc","v":-0.07},{"r":"Dalc","c":"nursery","v":-0.07},{"r":"nursery","c":"Walc","v":-0.07},{"r":"Walc","c":"nursery","v":-0.07},{"r":"nursery","c":"health","v":0},{"r":"health","c":"nursery","v":0},{"r":"nursery","c":"absences","v":-0.03},{"r":"absences","c":"nursery","v":-0.03},{"r":"nursery","c":"G1","v":0.03},{"r":"G1","c":"nursery","v":0.03},{"r":"nursery","c":"G2","v":0.03},{"r":"G2","c":"nursery","v":0.03},{"r":"nursery","c":"G3","v":0.02},{"r":"G3","c":"nursery","v":0.02},
{"r":"higher","c":"higher","v":1},{"r":"higher","c":"internet","v":0.07},{"r":"internet","c":"higher","v":0.07},{"r":"higher","c":"romantic","v":-0.08},{"r":"romantic","c":"higher","v":-0.08},{"r":"higher","c":"famrel","v":0.05},{"r":"famrel","c":"higher","v":0.05},{"r":"higher","c":"freetime","v":-0.08},{"r":"freetime","c":"higher","v":-0.08},{"r":"higher","c":"goout","v":-0.1},{"r":"goout","c":"higher","v":-0.1},{"r":"higher","c":"Dalc","v":-0.11},{"r":"Dalc","c":"higher","v":-0.11},{"r":"higher","c":"Walc","v":-0.11},{"r":"Walc","c":"higher","v":-0.11},{"r":"higher","c":"health","v":-0.02},{"r":"health","c":"higher","v":-0.02},{"r":"higher","c":"absences","v":-0.08},{"r":"absences","c":"higher","v":-0.08},{"r":"higher","c":"G1","v":0.28},{"r":"G1","c":"higher","v":0.28},{"r":"higher","c":"G2","v":0.27},{"r":"G2","c":"higher","v":0.27},{"r":"higher","c":"G3","v":0.26},{"r":"G3","c":"higher","v":0.26},
{"r":"internet","c":"internet","v":1},{"r":"internet","c":"romantic","v":0.1},{"r":"romantic","c":"internet","v":0.1},{"r":"internet","c":"famrel","v":0.09},{"r":"famrel","c":"internet","v":0.09},{"r":"internet","c":"freetime","v":0.09},{"r":"freetime","c":"internet","v":0.09},{"r":"internet","c":"goout","v":0.12},{"r":"goout","c":"internet","v":0.12},{"r":"internet","c":"Dalc","v":0.09},{"r":"Dalc","c":"internet","v":0.09},{"r":"internet","c":"Walc","v":0.09},{"r":"Walc","c":"internet","v":0.09},{"r":"internet","c":"health","v":-0.04},{"r":"health","c":"internet","v":-0.04},{"r":"internet","c":"absences","v":0.12},{"r":"absences","c":"internet","v":0.12},{"r":"internet","c":"G1","v":0.12},{"r":"G1","c":"internet","v":0.12},{"r":"internet","c":"G2","v":0.13},{"r":"G2","c":"internet","v":0.13},{"r":"internet","c":"G3","v":0.14},{"r":"G3","c":"internet","v":0.14},
{"r":"romantic","c":"romantic","v":1},{"r":"romantic","c":"famrel","v":-0.07},{"r":"famrel","c":"romantic","v":-0.07},{"r":"romantic","c":"freetime","v":0.04},{"r":"freetime","c":"romantic","v":0.04},{"r":"romantic","c":"goout","v":0.04},{"r":"goout","c":"romantic","v":0.04},{"r":"romantic","c":"Dalc","v":-0.07},{"r":"Dalc","c":"romantic","v":-0.07},{"r":"romantic","c":"Walc","v":-0.01},{"r":"Walc","c":"romantic","v":-0.01},{"r":"romantic","c":"health","v":-0.01},{"r":"health","c":"romantic","v":-0.01},{"r":"romantic","c":"absences","v":0.08},{"r":"absences","c":"romantic","v":0.08},{"r":"romantic","c":"G1","v":-0.08},{"r":"G1","c":"romantic","v":-0.08},{"r":"romantic","c":"G2","v":-0.1},{"r":"G2","c":"romantic","v":-0.1},{"r":"romantic","c":"G3","v":-0.1},{"r":"G3","c":"romantic","v":-0.1},
{"r":"famrel","c":"famrel","v":1},{"r":"famrel","c":"freetime","v":0.14},{"r":"freetime","c":"famrel","v":0.14},{"r":"famrel","c":"goout","v":0.1},{"r":"goout","c":"famrel","v":0.1},{"r":"famrel","c":"Dalc","v":-0.07},{"r":"Dalc","c":"famrel","v":-0.07},{"r":"famrel","c":"Walc","v":-0.11},{"r":"Walc","c":"famrel","v":-0.11},{"r":"famrel","c":"health","v":0.1},{"r":"health","c":"famrel","v":0.1},{"r":"famrel","c":"absences","v":-0.06},{"r":"absences","c":"famrel","v":-0.06},{"r":"famrel","c":"G1","v":0.03},{"r":"G1","c":"famrel","v":0.03},{"r":"famrel","c":"G2","v":0.02},{"r":"G2","c":"famrel","v":0.02},{"r":"famrel","c":"G3","v":0.04},{"r":"G3","c":"famrel","v":0.04},
{"r":"freetime","c":"freetime","v":1},{"r":"freetime","c":"goout","v":0.33},{"r":"goout","c":"freetime","v":0.33},{"r":"freetime","c":"Dalc","v":0.17},{"r":"Dalc","c":"freetime","v":0.17},{"r":"freetime","c":"Walc","v":0.14},{"r":"Walc","c":"freetime","v":0.14},{"r":"freetime","c":"health","v":0.14},{"r":"health","c":"freetime","v":0.14},{"r":"freetime","c":"absences","v":-0.03},{"r":"absences","c":"freetime","v":-0.03},{"r":"freetime","c":"G1","v":-0.07},{"r":"G1","c":"freetime","v":-0.07},{"r":"freetime","c":"G2","v":-0.07},{"r":"G2","c":"freetime","v":-0.07},{"r":"freetime","c":"G3","v":-0.07},{"r":"G3","c":"freetime","v":-0.07},
{"r":"goout","c":"goout","v":1},{"r":"goout","c":"Dalc","v":0.26},{"r":"Dalc","c":"goout","v":0.26},{"r":"goout","c":"Walc","v":0.39},{"r":"Walc","c":"goout","v":0.39},{"r":"goout","c":"health","v":-0.03},{"r":"health","c":"goout","v":-0.03},{"r":"goout","c":"absences","v":0.1},{"r":"absences","c":"goout","v":0.1},{"r":"goout","c":"G1","v":-0.12},{"r":"G1","c":"goout","v":-0.12},{"r":"goout","c":"G2","v":-0.12},{"r":"G2","c":"goout","v":-0.12},{"r":"goout","c":"G3","v":-0.12},{"r":"G3","c":"goout","v":-0.12},
{"r":"Dalc","c":"Dalc","v":1},{"r":"Dalc","c":"Walc","v":0.62},{"r":"Walc","c":"Dalc","v":0.62},{"r":"Dalc","c":"health","v":0.12},{"r":"health","c":"Dalc","v":0.12},{"r":"Dalc","c":"absences","v":0.17},{"r":"absences","c":"Dalc","v":0.17},{"r":"Dalc","c":"G1","v":-0.15},{"r":"G1","c":"Dalc","v":-0.15},{"r":"Dalc","c":"G2","v":-0.15},{"r":"G2","c":"Dalc","v":-0.15},{"r":"Dalc","c":"G3","v":-0.15},{"r":"G3","c":"Dalc","v":-0.15},
{"r":"Walc","c":"Walc","v":1},{"r":"Walc","c":"health","v":0.12},{"r":"health","c":"Walc","v":0.12},{"r":"Walc","c":"absences","v":0.2},{"r":"absences","c":"Walc","v":0.2},{"r":"Walc","c":"G1","v":-0.15},{"r":"G1","c":"Walc","v":-0.15},{"r":"Walc","c":"G2","v":-0.15},{"r":"G2","c":"Walc","v":-0.15},{"r":"Walc","c":"G3","v":-0.14},{"r":"G3","c":"Walc","v":-0.14},
{"r":"health","c":"health","v":1},{"r":"health","c":"absences","v":-0.07},{"r":"absences","c":"health","v":-0.07},{"r":"health","c":"G1","v":-0.07},{"r":"G1","c":"health","v":-0.07},{"r":"health","c":"G2","v":-0.08},{"r":"G2","c":"health","v":-0.08},{"r":"health","c":"G3","v":-0.09},{"r":"G3","c":"health","v":-0.09},
{"r":"absences","c":"absences","v":1},{"r":"absences","c":"G1","v":-0.13},{"r":"G1","c":"absences","v":-0.13},{"r":"absences","c":"G2","v":-0.13},{"r":"G2","c":"absences","v":-0.13},{"r":"absences","c":"G3","v":-0.1},{"r":"G3","c":"absences","v":-0.1},
{"r":"G1","c":"G1","v":1},{"r":"G1","c":"G2","v":0.86},{"r":"G2","c":"G1","v":0.86},{"r":"G1","c":"G3","v":0.82},{"r":"G3","c":"G1","v":0.82},
{"r":"G2","c":"G2","v":1},{"r":"G2","c":"G3","v":0.91},{"r":"G3","c":"G2","v":0.91},
{"r":"G3","c":"G3","v":1}
]},"mark":{"type":"rect","strokeWidth":0.6},"encoding":{"x":{"field":"c","type":"nominal","scale":{"domain":["school","sex","age","address","famsize","Pstatus","Medu","Fedu","Mjob","Fjob","reason","guardian","traveltime","studytime","failures","schoolsup","famsup","paid","activities","nursery","higher","internet","romantic","famrel","freetime","goout","Dalc","Walc","health","absences","G1","G2","G3"],"paddingInner":0,"paddingOuter":0},"axis":{"title":null,"labelAngle":-90,"labelFont":"DejaVu Sans","labelFontSize":6.5,"labelColor":"#222","tickSize":2,"tickWidth":0.5,"tickColor":"#222","domain":false,"labelPadding":2,"grid":false,"labelOverlap":false}},"y":{"field":"r","type":"nominal","scale":{"domain":["school","sex","age","address","famsize","Pstatus","Medu","Fedu","Mjob","Fjob","reason","guardian","traveltime","studytime","failures","schoolsup","famsup","paid","activities","nursery","higher","internet","romantic","famrel","freetime","goout","Dalc","Walc","health","absences","G1","G2","G3"],"paddingInner":0,"paddingOuter":0},"axis":{"title":null,"labelFont":"DejaVu Sans","labelFontSize":6.5,"labelColor":"#222","tickSize":2,"tickWidth":0.5,"tickColor":"#222","domain":false,"labelPadding":1,"grid":false,"labelOverlap":false}},"stroke":{"field":"v","type":"quantitative","legend":null,"scale":{"domain":[-0.381,-0.242,-0.104,0.034,0.172,0.31,0.448,0.586,0.724,0.862,1],"range":["#053061","#2166ac","#4393c3","#92c5de","#d1e5f0","#f7f7f7","#fddbc7","#f4a582","#d6604d","#b2182b","#67001f"]}},"color":{"field":"v","type":"quantitative","scale":{"domain":[-0.38,-0.242,-0.104,0.034,0.172,0.31,0.448,0.586,0.724,0.862,1],"range":["#053061","#2166ac","#4393c3","#92c5de","#d1e5f0","#f7f7f7","#fddbc7","#f4a582","#d6604d","#b2182b","#67001f"]},"legend":{"title":null,"orient":"none","legendX":563,"legendY":0,"gradientLength":237,"gradientThickness":12,"values":[-0.2,0,0.2,0.4,0.6,0.8,1],"format":".1f","labelFont":"DejaVu Sans","labelFontSize":5,"labelColor":"#222","gradientStrokeWidth":0}}}}
